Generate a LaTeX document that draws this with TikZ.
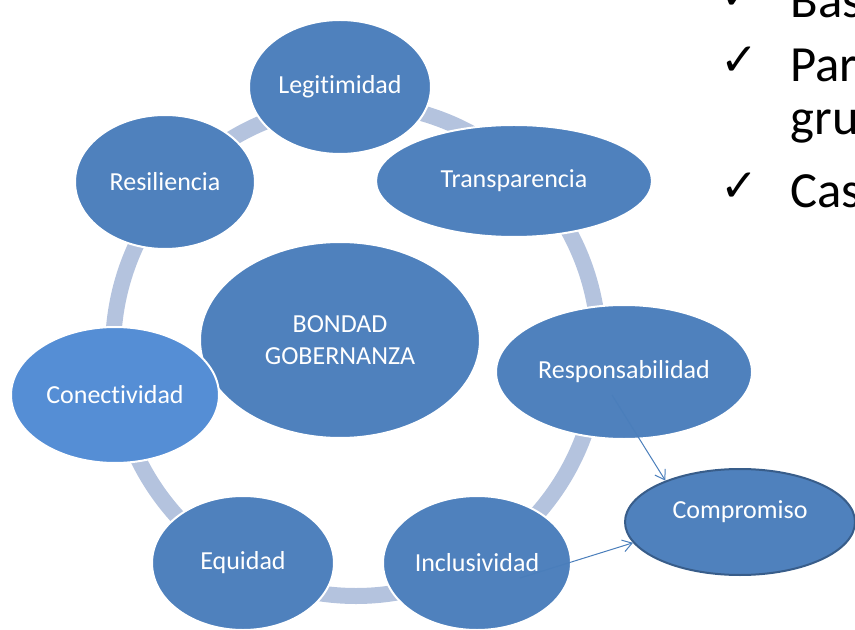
\documentclass[tikz,border=0pt]{standalone}
\usepackage{fontspec}
\setmainfont{Carlito}[Ligatures=NoCommon]
\newfontfamily\checkfont{DejaVu Sans}
\usetikzlibrary{shapes.geometric,arrows.meta}

\definecolor{nodeblue}{RGB}{79,129,189}
\definecolor{lightblue}{RGB}{85,142,213}
\definecolor{ringblue}{RGB}{180,195,222}
\definecolor{rimblue}{RGB}{56,93,138}
\definecolor{linkblue}{RGB}{74,126,187}

\tikzset{every picture/.style={line width=0.75pt}}
\tikzset{
  bubble/.style={ellipse, fill=nodeblue, draw=white, line width=1.5pt, text=white,
    inner sep=0pt, align=center, font=\fontsize{19.5}{23.5}\selectfont},
  link/.style={draw=linkblue, line width=0.75pt, -{Straight Barb[length=7pt,width=9pt]}},
  bullet/.style={anchor=base west, inner sep=0pt, font=\fontsize{38}{46}\selectfont},
  tick/.style={anchor=base west, inner sep=0pt, font=\checkfont\fontsize{34}{40}\selectfont},
}

\begin{document}
\begin{tikzpicture}[x=0.75pt,y=0.75pt,yscale=-1,xscale=1]
\clip (0,0) rectangle (855,630);

%Ring
\draw [ringblue, line width=12pt] (356,350) ellipse (243 and 246);

% Ellipses
\node (legit) [bubble, minimum width=136.5pt, minimum height=100.5pt] at (340,87) {Legitimidad};
\node (transp) [bubble, minimum width=207pt, minimum height=84pt] at (514,181) {Transparencia};
\node (resil) [bubble, minimum width=135pt, minimum height=100.5pt] at (165,182) {Resiliencia};
\node (bondad) [bubble, minimum width=210pt, minimum height=147pt] at (340,340) {BONDAD\\GOBERNANZA};
\node (resp) [bubble, minimum width=192pt, minimum height=100.5pt] at (624,372) {Responsabilidad};
\node (conect) [bubble, fill=lightblue, minimum width=156pt, minimum height=102pt] at (115,395) {Conectividad};
\node (equid) [bubble, minimum width=136.5pt, minimum height=100.5pt] at (243,563) {Equidad};
\node (inclus) [bubble, minimum width=141pt, minimum height=100.5pt] at (477,563) {Inclusividad};
\node (comp) [bubble, draw=rimblue, minimum width=172.5pt, minimum height=79.5pt] at (740,522) {};
\node (complbl) [text=white, font=\fontsize{19.5}{23.5}\selectfont] at (740,512) {Compromiso};

% Links
\coordinate (respfoot) at (612,395);
\coordinate (inclfoot) at (520,578);
\draw [link] (respfoot) -- (comp.151);
\draw [link] (inclfoot) -- (comp.191);

% Text Node
\node (tick1) [tick] at (720,10) {✓};
\node (bas) [bullet] at (790,18) {Bas};
\node (tick2) [tick] at (720,76) {✓};
\node (par) [bullet] at (790,82) {Par};
\node (gru) [bullet] at (790,135) {gru};
\node (tick3) [tick] at (720,202) {✓};
\node (cas) [bullet] at (790,208) {Cas};

\end{tikzpicture}
\end{document}
